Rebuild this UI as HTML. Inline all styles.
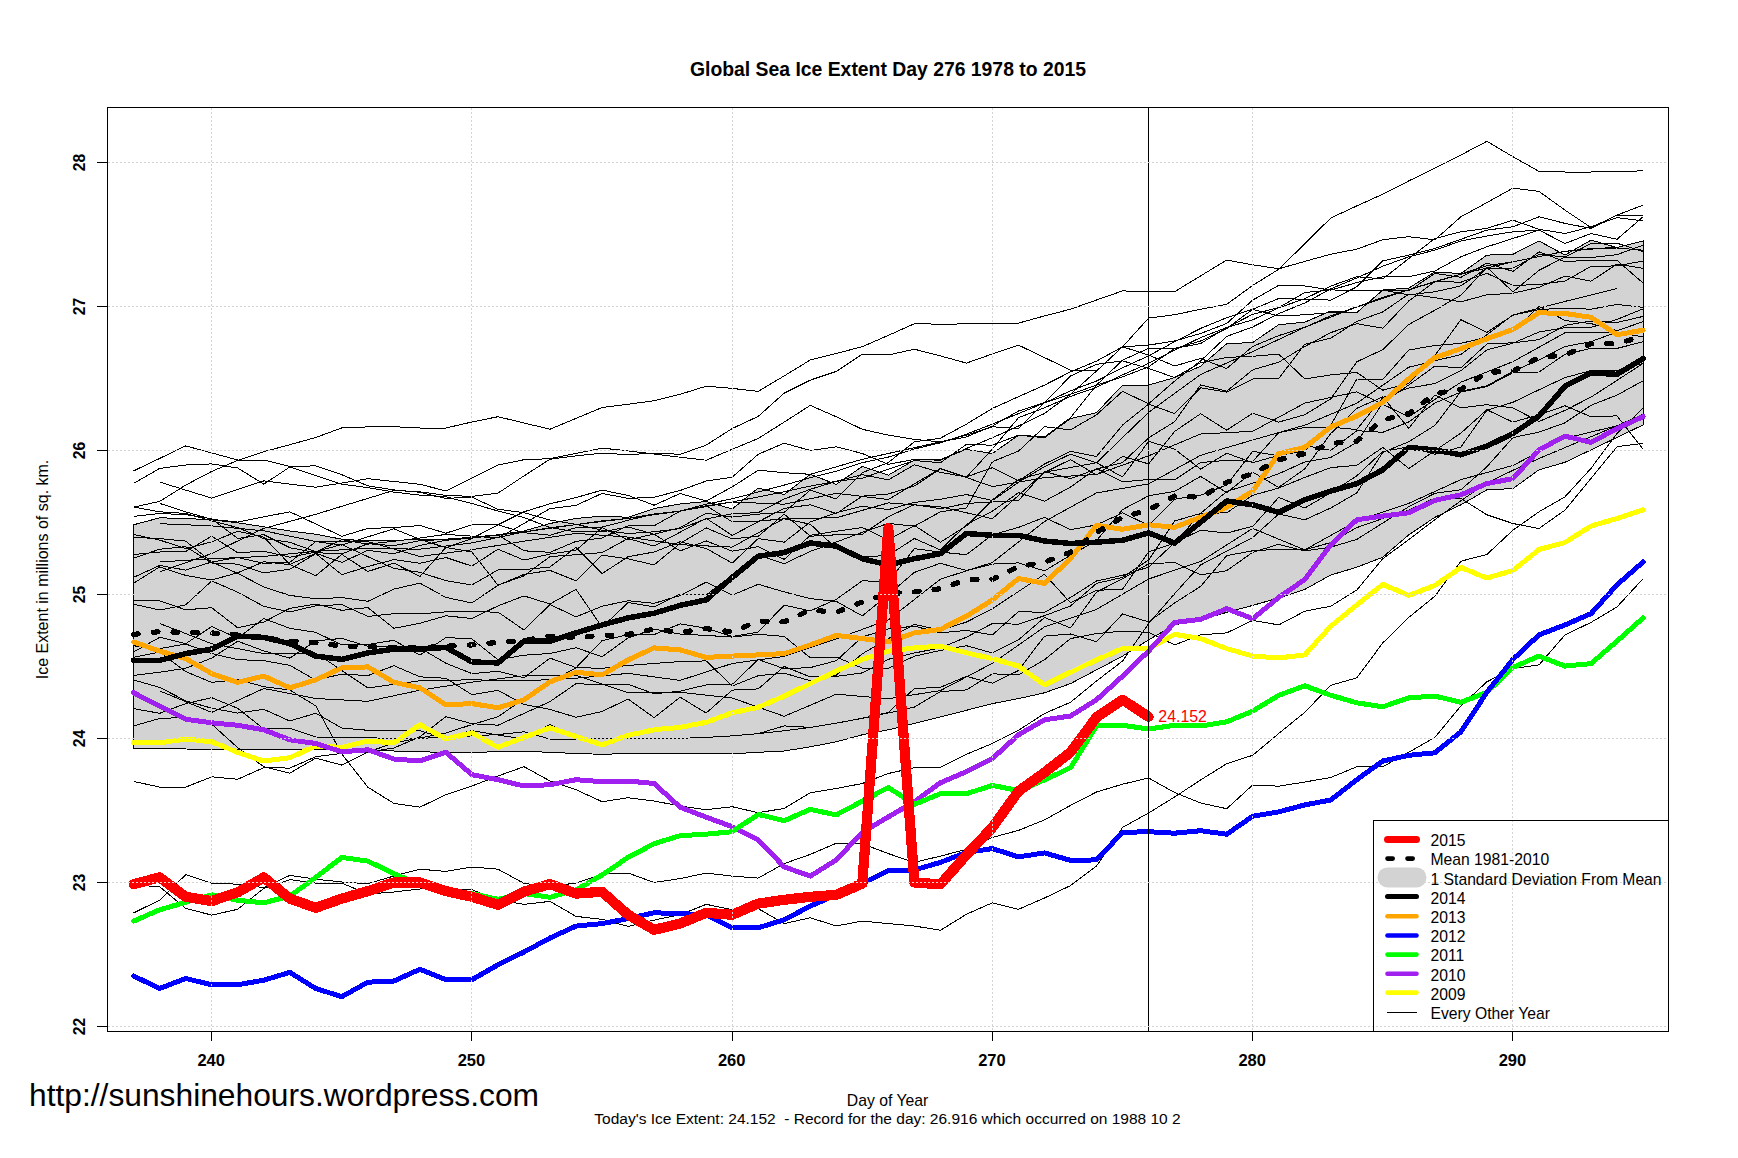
<!DOCTYPE html><html><head><meta charset="utf-8"><title>Global Sea Ice Extent</title>
<style>html,body{margin:0;padding:0;background:#fff}svg{display:block}text{font-family:"Liberation Sans",Arial,sans-serif;fill:#000}</style></head><body>
<svg width="1738" height="1158" viewBox="0 0 1738 1158">
<rect width="1738" height="1158" fill="#fff"/>
<polygon points="133.6,524.8 159.7,517.8 185.7,518.5 211.7,519.8 237.7,522.8 263.8,526.8 289.8,531.0 315.8,534.3 341.8,539.2 367.9,541.0 393.9,540.2 419.9,539.7 445.9,539.2 471.9,537.3 498.0,534.8 524.0,531.0 550.0,523.5 576.0,518.5 602.1,516.0 628.1,517.3 654.1,508.5 680.1,504.0 706.2,501.5 732.2,509.0 758.2,488.0 784.2,494.5 810.3,474.3 836.3,484.4 862.3,466.5 888.3,475.2 914.4,460.0 940.4,459.5 966.4,449.4 992.4,453.5 1018.5,435.2 1044.5,437.7 1070.5,418.5 1096.5,412.7 1122.6,385.1 1148.6,385.1 1174.6,377.6 1200.6,366.2 1226.7,343.7 1252.7,342.5 1278.7,324.7 1304.8,322.2 1330.8,311.0 1356.8,312.6 1382.8,290.0 1408.8,288.0 1434.9,272.0 1460.9,273.5 1486.9,255.1 1512.9,254.3 1539.0,241.0 1565.0,255.1 1591.0,240.1 1617.0,247.6 1643.1,241.0 1643.1,424.9 1617.0,437.4 1591.0,449.9 1565.0,462.3 1539.0,469.8 1512.9,488.6 1486.9,489.8 1460.9,504.8 1434.9,517.3 1408.8,534.8 1382.8,557.2 1356.8,567.2 1330.8,575.0 1304.8,589.4 1278.7,597.9 1252.7,605.4 1226.7,612.4 1200.6,619.9 1174.6,624.9 1148.6,639.9 1122.6,656.1 1096.5,669.9 1070.5,683.6 1044.5,692.8 1018.5,698.6 992.4,703.6 966.4,710.3 940.4,716.8 914.4,723.5 888.3,729.8 862.3,734.8 836.3,741.8 810.3,746.8 784.2,751.0 758.2,752.3 732.2,753.8 706.2,753.5 680.1,753.5 654.1,753.5 628.1,753.5 602.1,754.3 576.0,753.5 550.0,752.3 524.0,751.3 498.0,751.8 471.9,752.3 445.9,752.3 419.9,751.8 393.9,751.0 367.9,750.3 341.8,749.8 315.8,749.5 289.8,749.3 263.8,749.3 237.7,749.3 211.7,749.3 185.7,749.0 159.7,748.8 133.6,748.5" fill="#d3d3d3" stroke="#000" stroke-width="1" shape-rendering="crispEdges"/>
<g fill="none" stroke="#000" stroke-width="1" stroke-linejoin="round" shape-rendering="crispEdges">
<polyline points="133.6,507.1 159.7,501.4 185.7,485.1 211.7,471.4 237.7,460.4 263.8,451.7 289.8,444.7 315.8,437.5 341.8,427.9 367.9,426.9 393.9,426.7 419.9,428.0 445.9,428.0 471.9,422.0 498.0,416.7 524.0,423.0 550.0,429.2 576.0,418.4 602.1,407.5 628.1,404.2 654.1,400.8 680.1,394.3 706.2,386.2 732.2,388.4 758.2,391.4 784.2,375.9 810.3,360.0 836.3,353.4 862.3,346.7 888.3,335.4 914.4,323.7 940.4,324.2 966.4,323.9 992.4,323.9 1018.5,323.1 1044.5,315.9 1070.5,309.2 1096.5,300.0 1122.6,290.9 1148.6,291.7 1174.6,291.7 1200.6,275.9 1226.7,260.1 1252.7,264.8 1278.7,268.8 1304.8,261.4 1330.8,254.2 1356.8,249.2 1382.8,239.7 1408.8,236.7 1434.9,239.8 1460.9,216.8 1486.9,202.6 1512.9,188.1 1539.0,191.4 1565.0,210.1 1591.0,227.6 1617.0,215.1 1643.1,205.1"/>
<polyline points="159.7,571.8 185.7,562.7 211.7,553.5 237.7,541.0 263.8,528.4 289.8,521.4 315.8,514.3 341.8,506.3 367.9,498.4 393.9,490.4 419.9,491.8 445.9,495.4 471.9,496.4 498.0,493.1 524.0,475.9 550.0,459.2 576.0,455.9 602.1,453.1 628.1,454.7 654.1,453.1 680.1,454.3 706.2,445.1 732.2,428.5 758.2,416.4 784.2,393.1 810.3,380.1 836.3,371.4 862.3,354.2 888.3,355.0 914.4,349.2 940.4,355.9 966.4,363.1 992.4,353.9 1018.5,345.1 1044.5,357.6 1070.5,370.1 1096.5,371.0 1122.6,346.8 1148.6,318.1 1174.6,314.7 1200.6,309.3 1226.7,304.3 1252.7,285.4 1278.7,269.3 1304.8,243.7 1330.8,218.0 1356.8,205.9 1382.8,194.2 1408.8,180.9 1434.9,168.0 1460.9,155.0 1486.9,141.3 1512.9,156.7 1539.0,171.4 1565.0,172.0 1591.0,172.0 1617.0,171.4 1643.1,170.9"/>
<polyline points="159.7,482.1 185.7,490.1 211.7,498.1 237.7,489.5 263.8,480.9 289.8,484.1 315.8,487.2 341.8,483.0 367.9,478.7 393.9,481.5 419.9,484.3 445.9,490.9 471.9,478.0 498.0,465.1 524.0,459.7 550.0,458.7 576.0,453.4 602.1,448.1 628.1,450.9 654.1,454.0 680.1,457.2 706.2,460.2 732.2,449.3 758.2,438.5 784.2,422.1 810.3,405.4 836.3,416.8 862.3,429.3 888.3,435.1 914.4,439.4 940.4,441.9 966.4,436.9 992.4,426.0 1018.5,411.0 1044.5,402.7 1070.5,394.3 1096.5,385.1 1122.6,376.8 1148.6,366.8 1174.6,348.5 1200.6,341.0 1226.7,328.5 1252.7,309.3 1278.7,298.5 1304.8,299.3 1330.8,300.1 1356.8,286.8 1382.8,260.9 1408.8,255.1 1434.9,248.5 1460.9,239.3 1486.9,230.1 1512.9,226.8 1539.0,216.8 1565.0,223.4 1591.0,228.4 1617.0,215.1 1643.1,215.9"/>
<polyline points="133.6,470.9 159.7,458.4 185.7,445.9 211.7,452.9 237.7,460.0 263.8,460.0 289.8,466.4 315.8,465.9 341.8,474.7 367.9,485.9 393.9,489.9 419.9,492.3 445.9,498.4 471.9,497.1 498.0,509.3 524.0,512.6 550.0,520.1 576.0,524.3 602.1,530.2 628.1,533.5 654.1,531.8 680.1,528.6 706.2,518.9 732.2,513.7 758.2,512.7 784.2,499.0 810.3,489.3 836.3,481.3 862.3,478.2 888.3,469.2 914.4,460.5 940.4,462.7 966.4,444.4 992.4,445.2 1018.5,435.2 1044.5,436.9 1070.5,417.7 1096.5,385.1 1122.6,360.1 1148.6,348.4 1174.6,348.5 1200.6,343.5 1226.7,327.7 1252.7,314.3 1278.7,307.6 1304.8,292.6 1330.8,289.8 1356.8,291.0 1382.8,290.1 1408.8,291.0 1434.9,273.4 1460.9,277.3 1486.9,263.1 1512.9,271.4 1539.0,251.8 1565.0,261.7 1591.0,260.1 1617.0,260.4 1643.1,283.1"/>
<polyline points="133.6,483.4 159.7,468.4 185.7,465.0 211.7,463.9 237.7,468.0 263.8,484.2 289.8,467.0 315.8,475.6 341.8,484.2 367.9,487.6 393.9,492.1 419.9,495.1 445.9,496.8 471.9,503.5 498.0,511.0 524.0,517.6 550.0,527.6 576.0,531.8 602.1,531.9 628.1,527.0 654.1,534.2 680.1,527.7 706.2,513.2 732.2,517.1 758.2,514.1 784.2,512.3 810.3,490.1 836.3,499.0 862.3,472.6 888.3,462.6 914.4,441.8 940.4,438.2 966.4,424.2 992.4,408.4 1018.5,396.7 1044.5,385.1 1070.5,371.9 1096.5,361.1 1122.6,346.8 1148.6,355.1 1174.6,366.0 1200.6,358.5 1226.7,368.5 1252.7,346.4 1278.7,335.6 1304.8,327.3 1330.8,315.7 1356.8,306.9 1382.8,297.3 1408.8,289.7 1434.9,281.5 1460.9,274.2 1486.9,265.6 1512.9,261.8 1539.0,256.7 1565.0,251.3 1591.0,248.6 1617.0,248.0 1643.1,250.2"/>
<polyline points="133.6,507.1 159.7,511.8 185.7,513.4 211.7,520.9 237.7,527.6 263.8,538.6 289.8,542.3 315.8,551.6 341.8,544.5 367.9,556.7 393.9,568.4 419.9,572.3 445.9,580.7 471.9,585.0 498.0,569.9 524.0,569.6 550.0,567.0 576.0,547.3 602.1,573.6 628.1,556.7 654.1,552.0 680.1,541.8 706.2,548.5 732.2,563.1 758.2,538.6 784.2,542.2 810.3,522.0 836.3,512.8 862.3,506.2 888.3,509.6 914.4,502.4 940.4,499.3 966.4,494.5 992.4,500.6 1018.5,482.3 1044.5,466.7 1070.5,454.1 1096.5,462.8 1122.6,476.9 1148.6,441.4 1174.6,449.1 1200.6,469.1 1226.7,453.2 1252.7,462.7 1278.7,455.4 1304.8,450.9 1330.8,425.2 1356.8,379.0 1382.8,379.4 1408.8,350.0 1434.9,345.5 1460.9,343.3 1486.9,337.3 1512.9,331.7 1539.0,306.4 1565.0,320.5 1591.0,323.6 1617.0,330.7 1643.1,321.7"/>
<polyline points="159.7,503.4 185.7,511.8 211.7,519.3 237.7,522.1 263.8,516.9 289.8,511.8 315.8,524.0 341.8,536.3 367.9,528.4 393.9,527.6 419.9,525.5 445.9,533.2 471.9,524.8 498.0,524.8 524.0,532.7 550.0,535.2 576.0,527.6 602.1,527.1 628.1,520.3 654.1,514.0 680.1,511.1 706.2,504.2 732.2,498.8 758.2,492.0 784.2,485.1 810.3,477.7 836.3,471.2 862.3,462.7 888.3,457.1 914.4,449.0 940.4,442.8 966.4,434.1 992.4,424.1 1018.5,413.6 1044.5,402.9 1070.5,390.8 1096.5,381.0 1122.6,367.8 1148.6,355.8 1174.6,341.7 1200.6,328.4 1226.7,317.7 1252.7,309.3 1278.7,316.0 1304.8,314.8 1330.8,312.6 1356.8,312.6 1382.8,290.1 1408.8,294.8 1434.9,291.8 1460.9,285.9 1486.9,268.0 1512.9,268.1 1539.0,254.3 1565.0,257.0 1591.0,243.6 1617.0,243.2 1643.1,251.7"/>
<polyline points="133.6,577.3 159.7,565.5 185.7,570.1 211.7,562.0 237.7,557.6 263.8,563.3 289.8,562.3 315.8,541.6 341.8,545.1 367.9,536.8 393.9,528.8 419.9,539.3 445.9,547.7 471.9,538.5 498.0,524.8 524.0,511.8 550.0,503.8 576.0,497.6 602.1,490.1 628.1,495.4 654.1,505.2 680.1,493.5 706.2,501.0 732.2,486.9 758.2,470.2 784.2,472.7 810.3,474.3 836.3,466.8 862.3,459.3 888.3,453.5 914.4,447.7 940.4,441.9 966.4,435.2 992.4,426.8 1018.5,428.5 1044.5,402.7 1070.5,376.0 1096.5,364.3 1122.6,360.9 1148.6,368.4 1174.6,377.6 1200.6,362.7 1226.7,357.4 1252.7,356.3 1278.7,354.1 1304.8,379.0 1330.8,374.9 1356.8,372.5 1382.8,390.2 1408.8,383.4 1434.9,355.5 1460.9,319.7 1486.9,332.5 1512.9,315.2 1539.0,309.5 1565.0,308.2 1591.0,309.2 1617.0,304.4 1643.1,307.4"/>
<polyline points="133.6,554.5 159.7,552.0 185.7,551.5 211.7,536.2 237.7,552.7 263.8,551.2 289.8,557.2 315.8,552.0 341.8,539.7 367.9,544.1 393.9,541.3 419.9,538.0 445.9,534.4 471.9,536.1 498.0,538.0 524.0,523.5 550.0,508.6 576.0,505.4 602.1,493.4 628.1,498.4 654.1,497.2 680.1,490.5 706.2,481.0 732.2,477.2 758.2,454.3 784.2,443.1 810.3,450.5 836.3,446.8 862.3,453.5 888.3,464.3 914.4,459.4 940.4,460.2 966.4,448.5 992.4,437.7 1018.5,426.0 1044.5,413.5 1070.5,394.3 1096.5,371.0 1122.6,346.8 1148.6,345.1 1174.6,341.0 1200.6,333.5 1226.7,323.5 1252.7,300.1 1278.7,285.4 1304.8,285.9 1330.8,290.1 1356.8,282.6 1382.8,276.8 1408.8,276.8 1434.9,271.0 1460.9,256.8 1486.9,246.8 1512.9,238.5 1539.0,230.1 1565.0,243.5 1591.0,233.5 1617.0,239.3 1643.1,216.8"/>
<polyline points="133.6,537.4 159.7,538.6 185.7,541.1 211.7,562.0 237.7,573.4 263.8,586.9 289.8,595.4 315.8,598.8 341.8,597.6 367.9,601.3 393.9,589.1 419.9,583.1 445.9,597.4 471.9,603.0 498.0,585.2 524.0,575.8 550.0,556.6 576.0,554.7 602.1,552.6 628.1,538.5 654.1,546.1 680.1,532.2 706.2,518.3 732.2,535.4 758.2,521.8 784.2,508.4 810.3,504.8 836.3,513.6 862.3,496.2 888.3,494.0 914.4,486.0 940.4,468.7 966.4,477.2 992.4,449.0 1018.5,417.7 1044.5,407.8 1070.5,396.4 1096.5,387.3 1122.6,374.8 1148.6,363.4 1174.6,350.1 1200.6,337.6 1226.7,327.5 1252.7,319.8 1278.7,307.8 1304.8,298.7 1330.8,286.1 1356.8,276.7 1382.8,279.0 1408.8,258.5 1434.9,238.5 1460.9,231.8 1486.9,228.4 1512.9,220.1 1539.0,229.3 1565.0,233.5 1591.0,226.8 1617.0,217.6 1643.1,220.9"/>
<polyline points="133.6,600.2 159.7,600.9 185.7,609.8 211.7,607.7 237.7,627.8 263.8,622.0 289.8,608.3 315.8,604.1 341.8,610.3 367.9,607.6 393.9,628.3 419.9,623.3 445.9,615.8 471.9,618.5 498.0,605.9 524.0,595.9 550.0,604.0 576.0,589.4 602.1,627.2 628.1,602.6 654.1,606.8 680.1,594.1 706.2,594.9 732.2,575.2 758.2,555.0 784.2,563.7 810.3,551.4 836.3,542.0 862.3,532.3 888.3,523.4 914.4,526.2 940.4,511.8 966.4,507.9 992.4,461.7 1018.5,451.1 1044.5,426.7 1070.5,429.9 1096.5,414.8 1122.6,391.3 1148.6,403.8 1174.6,381.1 1200.6,360.9 1226.7,336.4 1252.7,327.0 1278.7,313.6 1304.8,303.0 1330.8,288.8 1356.8,278.0 1382.8,266.2 1408.8,256.8 1434.9,250.1 1460.9,241.0 1486.9,236.0 1512.9,231.8 1539.0,230.1 1565.0,243.5 1591.0,233.5 1617.0,239.3 1643.1,216.8"/>
<polyline points="133.6,781.4 159.7,787.1 185.7,787.1 211.7,776.8 237.7,779.3 263.8,767.6 289.8,768.1 315.8,756.7 341.8,753.4 367.9,752.0 393.9,748.0 419.9,736.8 445.9,716.6 471.9,723.7 498.0,725.2 524.0,713.4 550.0,701.6 576.0,683.7 602.1,684.7 628.1,684.3 654.1,693.8 680.1,691.2 706.2,684.9 732.2,684.5 758.2,659.5 784.2,668.7 810.3,667.6 836.3,660.7 862.3,636.9 888.3,628.9 914.4,626.2 940.4,632.8 966.4,630.4 992.4,634.9 1018.5,611.5 1044.5,612.5 1070.5,597.5 1096.5,581.0 1122.6,575.3 1148.6,567.1 1174.6,542.6 1200.6,530.2 1226.7,533.0 1252.7,526.4 1278.7,497.4 1304.8,508.0 1330.8,492.7 1356.8,475.8 1382.8,451.4 1408.8,446.9 1434.9,454.2 1460.9,447.0 1486.9,410.2 1512.9,402.3 1539.0,389.8 1565.0,377.6 1591.0,370.6 1617.0,370.5 1643.1,363.4"/>
<polyline points="133.6,726.0 159.7,718.4 185.7,717.5 211.7,724.2 237.7,747.6 263.8,766.8 289.8,773.1 315.8,758.1 341.8,765.1 367.9,752.0 393.9,743.0 419.9,738.0 445.9,733.0 471.9,724.6 498.0,716.7 524.0,698.8 550.0,682.2 576.0,667.8 602.1,640.6 628.1,634.7 654.1,634.6 680.1,623.9 706.2,628.1 732.2,636.5 758.2,632.1 784.2,605.1 810.3,610.9 836.3,599.3 862.3,580.8 888.3,581.7 914.4,548.6 940.4,552.1 966.4,554.7 992.4,534.8 1018.5,527.4 1044.5,517.3 1070.5,529.7 1096.5,524.9 1122.6,512.9 1148.6,525.3 1174.6,499.2 1200.6,495.2 1226.7,485.0 1252.7,451.3 1278.7,455.9 1304.8,445.4 1330.8,450.4 1356.8,430.7 1382.8,432.3 1408.8,421.9 1434.9,403.0 1460.9,392.1 1486.9,386.5 1512.9,372.7 1539.0,372.0 1565.0,354.3 1591.0,348.4 1617.0,348.4 1643.1,341.8"/>
<polyline points="133.6,657.2 159.7,652.0 185.7,671.6 211.7,682.4 237.7,679.6 263.8,686.7 289.8,690.0 315.8,705.9 341.8,754.0 367.9,787.2 393.9,803.4 419.9,807.2 445.9,794.7 471.9,786.0 498.0,776.0 524.0,766.7 550.0,781.0 576.0,789.7 602.1,801.7 628.1,797.7 654.1,801.0 680.1,806.0 706.2,809.7 732.2,806.7 758.2,812.7 784.2,808.4 810.3,792.7 836.3,788.5 862.3,783.5 888.3,773.5 914.4,767.7 940.4,767.5 966.4,754.3 992.4,743.5 1018.5,730.3 1044.5,713.5 1070.5,702.3 1096.5,681.0 1122.6,661.0 1148.6,623.7 1174.6,593.7 1200.6,565.0 1226.7,551.2 1252.7,537.5 1278.7,514.0 1304.8,519.8 1330.8,508.0 1356.8,492.9 1382.8,452.4 1408.8,441.7 1434.9,425.4 1460.9,391.4 1486.9,385.8 1512.9,371.4 1539.0,359.9 1565.0,346.6 1591.0,341.6 1617.0,332.1 1643.1,337.0"/>
<polyline points="133.6,912.9 159.7,900.1 185.7,874.7 211.7,883.1 237.7,884.2 263.8,887.6 289.8,875.4 315.8,879.2 341.8,882.0 367.9,883.7 393.9,876.0 419.9,869.2 445.9,871.4 471.9,867.0 498.0,869.2 524.0,883.4 550.0,886.5 576.0,883.0 602.1,874.2 628.1,873.0 654.1,882.5 680.1,878.6 706.2,873.1 732.2,876.1 758.2,878.1 784.2,863.6 810.3,854.4 836.3,843.2 862.3,843.7 888.3,853.6 914.4,862.4 940.4,856.1 966.4,849.4 992.4,837.4 1018.5,830.4 1044.5,819.9 1070.5,805.4 1096.5,792.0 1122.6,784.2 1148.6,778.0 1174.6,792.5 1200.6,803.0 1226.7,808.7 1252.7,785.0 1278.7,786.2 1304.8,782.0 1330.8,777.5 1356.8,766.7 1382.8,766.7 1408.8,752.3 1434.9,737.3 1460.9,706.0 1486.9,681.8 1512.9,668.6 1539.0,664.9 1565.0,634.9 1591.0,622.4 1617.0,606.9 1643.1,578.7"/>
<polyline points="133.6,885.0 159.7,886.7 185.7,908.4 211.7,915.1 237.7,909.3 263.8,888.4 289.8,879.6 315.8,883.1 341.8,883.1 367.9,894.0 393.9,892.0 419.9,889.0 445.9,888.7 471.9,889.7 498.0,900.0 524.0,904.3 550.0,901.4 576.0,916.4 602.1,919.3 628.1,926.4 654.1,920.1 680.1,914.8 706.2,904.3 732.2,909.8 758.2,908.6 784.2,923.6 810.3,917.8 836.3,926.0 862.3,921.0 888.3,923.6 914.4,926.0 940.4,930.3 966.4,914.3 992.4,902.8 1018.5,909.3 1044.5,898.0 1070.5,885.6 1096.5,866.1 1122.6,827.4 1148.6,813.0 1174.6,797.0 1200.6,780.0 1226.7,763.7 1252.7,755.3 1278.7,733.5 1304.8,712.3 1330.8,685.3 1356.8,677.8 1382.8,642.9 1408.8,617.4 1434.9,596.2 1460.9,561.2 1486.9,554.5 1512.9,530.2 1539.0,511.8 1565.0,496.8 1591.0,468.4 1617.0,433.4 1643.1,408.0"/>
<polyline points="133.6,708.6 159.7,713.3 185.7,703.6 211.7,697.7 237.7,708.3 263.8,729.0 289.8,728.4 315.8,737.0 341.8,737.4 367.9,737.9 393.9,738.2 419.9,738.4 445.9,737.2 471.9,730.6 498.0,735.0 524.0,739.1 550.0,724.3 576.0,739.0 602.1,738.9 628.1,738.9 654.1,738.8 680.1,738.4 706.2,737.4 732.2,735.9 758.2,733.6 784.2,730.8 810.3,727.4 836.3,723.2 862.3,718.3 888.3,713.0 914.4,707.1 940.4,691.6 966.4,689.9 992.4,673.8 1018.5,674.9 1044.5,659.7 1070.5,638.6 1096.5,633.6 1122.6,631.1 1148.6,632.4 1174.6,644.9 1200.6,634.9 1226.7,632.9 1252.7,620.4 1278.7,624.9 1304.8,611.2 1330.8,606.2 1356.8,590.0 1382.8,558.7 1408.8,539.6 1434.9,519.6 1460.9,500.7 1486.9,483.1 1512.9,470.3 1539.0,458.5 1565.0,447.6 1591.0,436.7 1617.0,425.8 1643.1,414.2"/>
<polyline points="133.6,680.0 159.7,687.4 185.7,700.8 211.7,708.2 237.7,713.1 263.8,709.3 289.8,721.0 315.8,713.2 341.8,728.0 367.9,730.3 393.9,731.0 419.9,730.8 445.9,738.5 471.9,735.8 498.0,734.6 524.0,731.8 550.0,739.0 576.0,739.0 602.1,738.3 628.1,738.9 654.1,738.8 680.1,738.4 706.2,737.4 732.2,735.9 758.2,733.6 784.2,725.9 810.3,727.4 836.3,723.2 862.3,718.2 888.3,712.4 914.4,688.6 940.4,687.3 966.4,676.4 992.4,683.2 1018.5,670.5 1044.5,636.1 1070.5,634.0 1096.5,641.7 1122.6,614.0 1148.6,621.9 1174.6,603.0 1200.6,586.4 1226.7,555.6 1252.7,550.8 1278.7,549.2 1304.8,549.9 1330.8,542.5 1356.8,527.6 1382.8,518.5 1408.8,510.1 1434.9,498.0 1460.9,498.4 1486.9,514.8 1512.9,523.5 1539.0,528.5 1565.0,510.1 1591.0,478.4 1617.0,446.7 1643.1,443.4"/>
<polyline points="133.6,645.8 159.7,648.6 185.7,644.0 211.7,653.5 237.7,659.7 263.8,660.6 289.8,665.4 315.8,680.1 341.8,674.1 367.9,675.6 393.9,665.7 419.9,676.8 445.9,678.3 471.9,694.6 498.0,690.4 524.0,704.4 550.0,709.4 576.0,717.3 602.1,711.5 628.1,699.0 654.1,717.7 680.1,697.2 706.2,713.0 732.2,690.1 758.2,688.9 784.2,666.5 810.3,676.9 836.3,676.4 862.3,672.9 888.3,659.3 914.4,653.0 940.4,647.9 966.4,637.2 992.4,623.5 1018.5,624.2 1044.5,615.7 1070.5,606.0 1096.5,583.4 1122.6,577.3 1148.6,560.0 1174.6,521.0 1200.6,513.5 1226.7,512.8 1252.7,495.3 1278.7,488.1 1304.8,477.4 1330.8,467.6 1356.8,465.3 1382.8,447.4 1408.8,468.5 1434.9,450.7 1460.9,433.1 1486.9,409.8 1512.9,422.1 1539.0,414.8 1565.0,405.8 1591.0,416.7 1617.0,415.9 1643.1,449.2"/>
<polyline points="133.6,516.4 159.7,513.5 185.7,514.7 211.7,518.8 237.7,538.5 263.8,534.6 289.8,547.7 315.8,552.6 341.8,554.0 367.9,543.7 393.9,545.7 419.9,540.6 445.9,539.5 471.9,537.6 498.0,535.1 524.0,532.0 550.0,527.7 576.0,524.6 602.1,520.9 628.1,518.4 654.1,514.0 680.1,511.1 706.2,505.8 732.2,502.0 758.2,496.9 784.2,491.7 810.3,486.1 836.3,481.3 862.3,474.6 888.3,479.9 914.4,464.7 940.4,472.4 966.4,476.9 992.4,467.7 1018.5,480.9 1044.5,464.0 1070.5,451.3 1096.5,456.5 1122.6,425.0 1148.6,404.1 1174.6,413.6 1200.6,387.8 1226.7,392.1 1252.7,379.0 1278.7,378.6 1304.8,344.3 1330.8,338.2 1356.8,321.4 1382.8,311.9 1408.8,294.1 1434.9,297.7 1460.9,301.8 1486.9,294.8 1512.9,293.2 1539.0,287.3 1565.0,276.1 1591.0,281.2 1617.0,264.1 1643.1,268.3"/>
<polyline points="159.7,523.7 211.7,525.9 263.8,530.8 315.8,541.5 367.9,541.6 419.9,556.5 471.9,549.7 524.0,541.2 576.0,533.4 628.1,537.1 680.1,544.7 732.2,547.1 784.2,518.5 836.3,517.8 888.3,502.9 940.4,506.8 992.4,518.7 1044.5,472.2 1096.5,462.8 1148.6,412.4 1200.6,374.5 1252.7,351.6 1304.8,327.3 1356.8,306.9 1408.8,289.7 1460.9,274.2 1512.9,261.8 1565.0,251.3 1617.0,247.0"/>
<polyline points="133.6,534.5 159.7,540.1 185.7,548.6 211.7,541.9 237.7,531.2 263.8,537.2 289.8,564.4 315.8,553.3 341.8,562.4 367.9,550.3 393.9,553.8 419.9,545.4 445.9,540.3 471.9,538.0 498.0,535.1 524.0,550.8 550.0,552.3 576.0,541.4 602.1,538.0 628.1,525.8 654.1,525.8 680.1,511.1 706.2,505.8 732.2,521.8 758.2,521.1 784.2,518.8 810.3,524.2 836.3,548.4 862.3,556.9 888.3,555.4 914.4,538.5 940.4,549.9 966.4,524.6 992.4,511.2 1018.5,492.7 1044.5,501.2 1070.5,487.1 1096.5,468.5 1122.6,481.8 1148.6,479.5 1174.6,480.0 1200.6,462.5 1226.7,460.4 1252.7,461.4 1278.7,432.7 1304.8,427.4 1330.8,427.2 1356.8,429.5 1382.8,397.6 1408.8,388.0 1434.9,383.6 1460.9,370.7 1486.9,349.9 1512.9,343.2 1539.0,332.0 1565.0,327.7 1591.0,327.4 1617.0,319.4 1643.1,308.9"/>
<polyline points="133.6,558.2 159.7,549.2 185.7,546.6 211.7,563.0 237.7,564.1 263.8,572.9 289.8,569.2 315.8,553.6 341.8,574.7 367.9,566.5 393.9,559.6 419.9,563.3 445.9,557.5 471.9,566.1 498.0,549.2 524.0,560.1 550.0,554.0 576.0,550.2 602.1,527.7 628.1,539.8 654.1,534.1 680.1,550.9 706.2,540.9 732.2,551.1 758.2,546.7 784.2,559.4 810.3,535.3 836.3,531.2 862.3,527.5 888.3,539.9 914.4,525.5 940.4,542.2 966.4,525.9 992.4,499.9 1018.5,479.4 1044.5,472.5 1070.5,459.6 1096.5,475.0 1122.6,456.4 1148.6,463.9 1174.6,431.5 1200.6,413.7 1226.7,430.2 1252.7,413.2 1278.7,422.1 1304.8,414.7 1330.8,398.8 1356.8,361.8 1382.8,349.6 1408.8,324.5 1434.9,310.2 1460.9,295.2 1486.9,267.3 1512.9,291.9 1539.0,270.3 1565.0,257.1 1591.0,257.6 1617.0,254.7 1643.1,245.1"/>
<polyline points="159.7,561.9 211.7,558.8 263.8,556.4 315.8,551.3 367.9,548.4 419.9,549.2 471.9,542.9 524.0,532.0 576.0,524.6 628.1,518.4 680.1,511.1 732.2,502.0 784.2,504.2 836.3,493.3 888.3,499.5 940.4,468.4 992.4,486.6 1044.5,477.6 1096.5,474.5 1148.6,455.8 1200.6,434.0 1252.7,431.3 1304.8,403.1 1356.8,391.8 1408.8,416.8 1460.9,382.2 1512.9,361.7 1565.0,332.8 1617.0,332.2"/>
<polyline points="133.6,583.2 159.7,566.9 185.7,575.4 211.7,580.0 237.7,572.8 263.8,561.8 289.8,564.6 315.8,575.6 341.8,554.4 367.9,571.5 393.9,563.0 419.9,576.5 445.9,547.4 471.9,552.0 498.0,585.2 524.0,574.4 550.0,570.4 576.0,580.8 602.1,555.1 628.1,558.9 654.1,564.9 680.1,543.5 706.2,527.9 732.2,538.9 758.2,536.3 784.2,514.1 810.3,536.2 836.3,534.8 862.3,534.3 888.3,516.7 914.4,504.6 940.4,508.7 966.4,503.4 992.4,502.0 1018.5,500.5 1044.5,471.5 1070.5,478.7 1096.5,469.0 1122.6,462.6 1148.6,437.9 1174.6,421.7 1200.6,384.9 1226.7,391.2 1252.7,369.8 1278.7,362.2 1304.8,346.5 1330.8,332.6 1356.8,323.7 1382.8,328.2 1408.8,300.9 1434.9,281.5 1460.9,282.2 1486.9,273.3 1512.9,285.5 1539.0,284.5 1565.0,281.0 1591.0,266.4 1617.0,265.9 1643.1,261.0"/>
<polyline points="133.6,604.2 159.7,610.0 185.7,604.8 211.7,580.9 237.7,592.2 263.8,606.4 289.8,611.9 315.8,605.8 341.8,604.6 367.9,616.4 393.9,613.7 419.9,613.8 445.9,611.9 471.9,611.8 498.0,612.1 524.0,630.0 550.0,604.5 576.0,616.9 602.1,606.2 628.1,600.7 654.1,603.3 680.1,595.6 706.2,582.1 732.2,595.1 758.2,584.3 784.2,591.9 810.3,598.6 836.3,601.4 862.3,615.9 888.3,594.6 914.4,572.4 940.4,563.3 966.4,570.5 992.4,564.1 1018.5,562.9 1044.5,570.9 1070.5,555.3 1096.5,540.6 1122.6,509.6 1148.6,495.8 1174.6,491.4 1200.6,476.4 1226.7,492.7 1252.7,472.1 1278.7,487.4 1304.8,468.9 1330.8,433.5 1356.8,408.3 1382.8,396.9 1408.8,428.4 1434.9,394.9 1460.9,407.8 1486.9,404.7 1512.9,407.9 1539.0,421.5 1565.0,410.4 1591.0,397.1 1617.0,380.4 1643.1,363.4"/>
<polyline points="159.7,623.5 211.7,643.7 263.8,653.6 315.8,653.0 367.9,688.0 419.9,680.8 471.9,679.8 524.0,680.9 576.0,678.2 628.1,673.4 680.1,680.4 732.2,663.5 784.2,656.4 836.3,638.9 888.3,619.9 940.4,579.2 992.4,562.5 1044.5,521.5 1096.5,492.9 1148.6,483.9 1200.6,455.3 1252.7,440.0 1304.8,425.2 1356.8,403.2 1408.8,367.2 1460.9,354.5 1512.9,315.0 1565.0,301.4 1617.0,288.5"/>
<polyline points="133.6,652.0 159.7,637.3 185.7,643.7 211.7,626.6 237.7,638.1 263.8,618.6 289.8,628.3 315.8,632.3 341.8,645.0 367.9,644.5 393.9,640.3 419.9,655.1 445.9,637.5 471.9,638.9 498.0,659.8 524.0,655.2 550.0,653.5 576.0,647.7 602.1,656.7 628.1,637.9 654.1,629.1 680.1,634.1 706.2,635.4 732.2,637.1 758.2,634.3 784.2,636.4 810.3,657.8 836.3,657.0 862.3,668.1 888.3,668.3 914.4,656.2 940.4,650.4 966.4,645.7 992.4,653.0 1018.5,639.9 1044.5,617.5 1070.5,627.9 1096.5,592.1 1122.6,578.7 1148.6,563.8 1174.6,562.5 1200.6,574.9 1226.7,570.7 1252.7,552.3 1278.7,544.3 1304.8,551.0 1330.8,547.1 1356.8,539.4 1382.8,523.0 1408.8,506.7 1434.9,493.3 1460.9,489.8 1486.9,466.8 1512.9,437.6 1539.0,432.1 1565.0,422.8 1591.0,405.3 1617.0,395.1 1643.1,380.8"/>
<polyline points="133.6,675.5 159.7,672.2 185.7,668.3 211.7,658.1 237.7,641.2 263.8,650.9 289.8,658.1 315.8,640.9 341.8,638.4 367.9,646.3 393.9,647.2 419.9,647.9 445.9,663.2 471.9,673.6 498.0,671.3 524.0,677.8 550.0,658.1 576.0,667.6 602.1,668.3 628.1,665.5 654.1,663.4 680.1,661.6 706.2,660.9 732.2,686.0 758.2,675.7 784.2,673.2 810.3,680.7 836.3,675.1 862.3,653.8 888.3,638.7 914.4,624.4 940.4,630.1 966.4,622.1 992.4,608.7 1018.5,591.5 1044.5,574.2 1070.5,602.8 1096.5,590.4 1122.6,589.1 1148.6,551.9 1174.6,543.1 1200.6,513.3 1226.7,491.5 1252.7,483.2 1278.7,473.7 1304.8,462.0 1330.8,457.5 1356.8,442.3 1382.8,402.9 1408.8,385.0 1434.9,366.1 1460.9,367.9 1486.9,344.0 1512.9,342.8 1539.0,339.7 1565.0,325.4 1591.0,321.0 1617.0,322.5 1643.1,316.4"/>
<polyline points="159.7,690.9 211.7,712.4 263.8,688.5 315.8,698.5 367.9,701.3 419.9,690.2 471.9,682.1 524.0,675.7 576.0,675.2 628.1,692.8 680.1,692.2 732.2,698.0 784.2,716.3 836.3,694.2 888.3,698.7 940.4,690.6 992.4,663.3 1044.5,626.9 1096.5,609.4 1148.6,579.0 1200.6,561.5 1252.7,528.4 1304.8,549.9 1356.8,520.9 1408.8,503.3 1460.9,479.6 1512.9,465.5 1565.0,438.3 1617.0,425.8"/>
</g>
<polyline points="133.6,742.8 159.7,742.8 185.7,739.0 211.7,741.8 237.7,752.3 263.8,761.0 289.8,757.7 315.8,746.0 341.8,747.3 367.9,741.0 393.9,742.8 419.9,724.8 445.9,739.0 471.9,732.8 498.0,747.3 524.0,737.3 550.0,727.8 576.0,736.5 602.1,744.8 628.1,735.3 654.1,729.8 680.1,727.3 706.2,722.3 732.2,712.8 758.2,707.3 784.2,696.1 810.3,683.6 836.3,671.1 862.3,659.4 888.3,651.1 914.4,647.9 940.4,646.1 966.4,652.9 992.4,658.6 1018.5,666.1 1044.5,684.8 1070.5,672.3 1096.5,659.9 1122.6,648.6 1148.6,648.6 1174.6,634.4 1200.6,638.6 1226.7,648.6 1252.7,656.1 1278.7,657.9 1304.8,654.9 1330.8,626.2 1356.8,604.9 1382.8,584.4 1408.8,595.4 1434.9,585.4 1460.9,567.5 1486.9,578.0 1512.9,570.5 1539.0,549.5 1565.0,542.5 1591.0,526.0 1617.0,518.5 1643.1,509.8" fill="none" stroke="#ffff00" stroke-width="5" stroke-linejoin="round" stroke-linecap="round" shape-rendering="crispEdges" />
<polyline points="133.6,692.8 159.7,706.1 185.7,719.3 211.7,722.8 237.7,725.3 263.8,729.8 289.8,739.8 315.8,743.5 341.8,751.8 367.9,749.8 393.9,759.0 419.9,761.0 445.9,752.3 471.9,774.7 498.0,779.7 524.0,786.0 550.0,784.7 576.0,779.7 602.1,781.7 628.1,781.0 654.1,783.5 680.1,807.2 706.2,817.2 732.2,826.7 758.2,839.9 784.2,866.9 810.3,876.1 836.3,859.9 862.3,832.4 888.3,816.9 914.4,801.7 940.4,782.7 966.4,771.7 992.4,758.5 1018.5,734.8 1044.5,719.8 1070.5,716.0 1096.5,699.8 1122.6,676.1 1148.6,651.1 1174.6,622.4 1200.6,619.4 1226.7,608.7 1252.7,618.7 1278.7,597.4 1304.8,579.5 1330.8,544.7 1356.8,519.8 1382.8,516.0 1408.8,512.8 1434.9,500.3 1460.9,494.8 1486.9,483.6 1512.9,478.6 1539.0,449.9 1565.0,436.1 1591.0,442.4 1617.0,428.6 1643.1,416.6" fill="none" stroke="#a020f0" stroke-width="5" stroke-linejoin="round" stroke-linecap="round" shape-rendering="crispEdges" />
<polyline points="133.6,921.1 159.7,909.8 185.7,902.3 211.7,894.8 237.7,900.3 263.8,902.8 289.8,896.1 315.8,877.4 341.8,857.4 367.9,861.1 393.9,873.6 419.9,884.9 445.9,891.1 471.9,893.6 498.0,899.3 524.0,893.6 550.0,897.3 576.0,889.9 602.1,874.9 628.1,857.4 654.1,843.7 680.1,835.7 706.2,834.2 732.2,831.7 758.2,814.4 784.2,820.7 810.3,809.4 836.3,814.9 862.3,801.2 888.3,787.5 914.4,804.4 940.4,793.7 966.4,793.7 992.4,785.5 1018.5,790.5 1044.5,780.0 1070.5,767.7 1096.5,726.0 1122.6,725.3 1148.6,729.0 1174.6,725.3 1200.6,726.0 1226.7,721.8 1252.7,711.1 1278.7,695.3 1304.8,685.8 1330.8,695.3 1356.8,702.8 1382.8,706.8 1408.8,697.8 1434.9,696.1 1460.9,702.3 1486.9,692.3 1512.9,667.4 1539.0,656.1 1565.0,666.1 1591.0,663.6 1617.0,641.1 1643.1,617.9" fill="none" stroke="#00ff00" stroke-width="5" stroke-linejoin="round" stroke-linecap="round" shape-rendering="crispEdges" />
<polyline points="133.6,976.0 159.7,988.5 185.7,978.5 211.7,984.7 237.7,984.7 263.8,980.2 289.8,972.3 315.8,988.5 341.8,996.7 367.9,982.2 393.9,981.0 419.9,969.3 445.9,979.7 471.9,979.7 498.0,964.8 524.0,952.0 550.0,938.0 576.0,926.1 602.1,923.6 628.1,918.6 654.1,912.8 680.1,913.6 706.2,914.8 732.2,927.8 758.2,927.8 784.2,919.8 810.3,906.1 836.3,894.8 862.3,883.6 888.3,870.6 914.4,869.9 940.4,862.4 966.4,852.4 992.4,848.6 1018.5,856.9 1044.5,852.9 1070.5,860.4 1096.5,859.9 1122.6,832.4 1148.6,831.7 1174.6,833.2 1200.6,830.7 1226.7,834.2 1252.7,816.2 1278.7,811.9 1304.8,804.9 1330.8,800.0 1356.8,779.7 1382.8,761.0 1408.8,755.3 1434.9,752.8 1460.9,731.8 1486.9,692.3 1512.9,659.4 1539.0,634.9 1565.0,624.9 1591.0,613.7 1617.0,584.9 1643.1,562.0" fill="none" stroke="#0000ff" stroke-width="5" stroke-linejoin="round" stroke-linecap="round" shape-rendering="crispEdges" />
<polyline points="133.6,641.9 159.7,651.1 185.7,658.6 211.7,673.6 237.7,682.3 263.8,676.1 289.8,687.8 315.8,679.8 341.8,667.9 367.9,666.9 393.9,682.3 419.9,687.8 445.9,704.8 471.9,703.6 498.0,707.8 524.0,699.8 550.0,681.8 576.0,672.3 602.1,674.8 628.1,659.9 654.1,647.9 680.1,649.9 706.2,657.4 732.2,656.1 758.2,654.9 784.2,653.6 810.3,644.9 836.3,635.4 862.3,638.6 888.3,641.9 914.4,632.9 940.4,629.4 966.4,616.2 992.4,599.9 1018.5,578.5 1044.5,583.4 1070.5,558.5 1096.5,525.3 1122.6,529.3 1148.6,524.8 1174.6,527.3 1200.6,517.3 1226.7,507.3 1252.7,491.1 1278.7,453.6 1304.8,447.4 1330.8,426.9 1356.8,416.1 1382.8,402.4 1408.8,378.7 1434.9,357.5 1460.9,348.7 1486.9,338.7 1512.9,329.5 1539.0,312.8 1565.0,313.5 1591.0,317.3 1617.0,334.7 1643.1,330.2" fill="none" stroke="#ffa500" stroke-width="5" stroke-linejoin="round" stroke-linecap="round" shape-rendering="crispEdges" />
<polyline points="133.6,660.4 159.7,660.4 185.7,653.6 211.7,649.1 237.7,636.1 263.8,637.4 289.8,643.6 315.8,656.1 341.8,659.4 367.9,652.9 393.9,649.1 419.9,649.1 445.9,647.4 471.9,661.9 498.0,662.9 524.0,641.1 550.0,641.1 576.0,632.9 602.1,624.9 628.1,617.9 654.1,613.2 680.1,605.4 706.2,599.9 732.2,577.5 758.2,556.2 784.2,552.5 810.3,543.0 836.3,546.2 862.3,558.7 888.3,565.0 914.4,558.7 940.4,553.7 966.4,533.5 992.4,535.3 1018.5,535.3 1044.5,541.0 1070.5,543.5 1096.5,542.2 1122.6,540.2 1148.6,532.8 1174.6,543.0 1200.6,522.3 1226.7,501.0 1252.7,504.8 1278.7,512.3 1304.8,499.8 1330.8,491.1 1356.8,483.6 1382.8,469.8 1408.8,447.4 1434.9,449.9 1460.9,454.8 1486.9,446.1 1512.9,433.6 1539.0,416.1 1565.0,386.2 1591.0,372.9 1617.0,374.4 1643.1,358.7" fill="none" stroke="#000" stroke-width="5.5" stroke-linejoin="round" stroke-linecap="round" shape-rendering="crispEdges" />
<polyline points="133.6,634.4 159.7,631.6 185.7,632.4 211.7,632.9 237.7,634.9 263.8,637.9 289.8,641.1 315.8,642.4 341.8,646.1 367.9,646.6 393.9,647.4 419.9,647.9 445.9,646.1 471.9,644.9 498.0,642.4 524.0,640.6 550.0,636.1 576.0,637.4 602.1,635.6 628.1,634.4 654.1,629.1 680.1,632.4 706.2,628.6 732.2,631.9 758.2,621.2 784.2,621.9 810.3,609.9 836.3,612.4 862.3,601.9 888.3,593.7 914.4,591.9 940.4,588.7 966.4,579.7 992.4,579.2 1018.5,566.7 1044.5,562.2 1070.5,552.2 1096.5,532.3 1122.6,517.3 1148.6,509.8 1174.6,496.0 1200.6,497.3 1226.7,482.3 1252.7,473.6 1278.7,459.8 1304.8,453.6 1330.8,443.6 1356.8,441.1 1382.8,419.9 1408.8,413.6 1434.9,393.7 1460.9,389.4 1486.9,372.4 1512.9,371.2 1539.0,357.5 1565.0,355.0 1591.0,343.7 1617.0,343.7 1643.1,336.2" fill="none" stroke="#000" stroke-width="5.2" stroke-linejoin="round" stroke-linecap="round" shape-rendering="crispEdges" stroke-dasharray="4.8 15"/>
<polyline points="133.6,884.1 159.7,877.4 185.7,896.8 211.7,901.1 237.7,892.3 263.8,877.4 289.8,898.6 315.8,907.8 341.8,898.6 367.9,891.1 393.9,882.4 419.9,882.4 445.9,891.1 471.9,896.8 498.0,904.8 524.0,891.6 550.0,884.1 576.0,893.6 602.1,891.8 628.1,914.8 654.1,929.8 680.1,923.6 706.2,912.8 732.2,914.8 758.2,903.6 784.2,899.8 810.3,896.8 836.3,894.8 862.3,883.6 888.3,528.3 914.4,882.4 940.4,884.4 966.4,854.9 992.4,827.4 1018.5,791.2 1044.5,772.5 1070.5,752.3 1096.5,717.3 1122.6,699.8 1148.6,716.8" fill="none" stroke="#ff0000" stroke-width="10.2" stroke-linejoin="round" stroke-linecap="round" shape-rendering="crispEdges" />
<line x1="1148.5" y1="107.5" x2="1148.5" y2="1031.5" stroke="#000" stroke-width="1" shape-rendering="crispEdges"/>
<text x="1158.3" y="722.3" font-size="15.9" style="fill:#ff0000">24.152</text>
<g stroke="#d3d3d3" stroke-width="1" stroke-dasharray="2 2" shape-rendering="crispEdges">
<line x1="211.5" y1="107.5" x2="211.5" y2="1031.5"/>
<line x1="471.5" y1="107.5" x2="471.5" y2="1031.5"/>
<line x1="732.5" y1="107.5" x2="732.5" y2="1031.5"/>
<line x1="992.5" y1="107.5" x2="992.5" y2="1031.5"/>
<line x1="1252.5" y1="107.5" x2="1252.5" y2="1031.5"/>
<line x1="1512.5" y1="107.5" x2="1512.5" y2="1031.5"/>
<line x1="107.5" y1="1026.5" x2="1668.5" y2="1026.5"/>
<line x1="107.5" y1="882.5" x2="1668.5" y2="882.5"/>
<line x1="107.5" y1="738.5" x2="1668.5" y2="738.5"/>
<line x1="107.5" y1="594.5" x2="1668.5" y2="594.5"/>
<line x1="107.5" y1="450.5" x2="1668.5" y2="450.5"/>
<line x1="107.5" y1="306.5" x2="1668.5" y2="306.5"/>
<line x1="107.5" y1="162.5" x2="1668.5" y2="162.5"/>
</g>
<rect x="1373.5" y="820.5" width="295" height="211" fill="none" stroke="#000" stroke-width="1" shape-rendering="crispEdges"/>
<line x1="1387.5" y1="839.4" x2="1416.5" y2="839.4" stroke="#ff0000" stroke-width="7" stroke-linecap="round"/>
<text x="1430.5" y="846" font-size="15.7">2015</text>
<line x1="1387.5" y1="858.6" x2="1416.5" y2="858.6" stroke="#000" stroke-width="4.6" stroke-linecap="round" stroke-dasharray="5.2 14.8"/>
<text x="1430.5" y="865" font-size="15.7">Mean 1981-2010</text>
<line x1="1387.5" y1="877.4" x2="1416.5" y2="877.4" stroke="#d3d3d3" stroke-width="20" stroke-linecap="round"/>
<text x="1430.5" y="885" font-size="15.7">1 Standard Deviation From Mean</text>
<line x1="1387.5" y1="896.6" x2="1416.5" y2="896.6" stroke="#000" stroke-width="5" stroke-linecap="round"/>
<text x="1430.5" y="904" font-size="15.7">2014</text>
<line x1="1387.5" y1="916.3" x2="1416.5" y2="916.3" stroke="#ffa500" stroke-width="4.6" stroke-linecap="round"/>
<text x="1430.5" y="923" font-size="15.7">2013</text>
<line x1="1387.5" y1="935.5" x2="1416.5" y2="935.5" stroke="#0000ff" stroke-width="4.6" stroke-linecap="round"/>
<text x="1430.5" y="942" font-size="15.7">2012</text>
<line x1="1387.5" y1="954.6" x2="1416.5" y2="954.6" stroke="#00ff00" stroke-width="4.6" stroke-linecap="round"/>
<text x="1430.5" y="961" font-size="15.7">2011</text>
<line x1="1387.5" y1="973.7" x2="1416.5" y2="973.7" stroke="#a020f0" stroke-width="4.6" stroke-linecap="round"/>
<text x="1430.5" y="980.5" font-size="15.7">2010</text>
<line x1="1387.5" y1="992.6" x2="1416.5" y2="992.6" stroke="#ffff00" stroke-width="4.6" stroke-linecap="round"/>
<text x="1430.5" y="999.7" font-size="15.7">2009</text>
<line x1="1387" y1="1012.5" x2="1417" y2="1012.5" stroke="#000" stroke-width="1" shape-rendering="crispEdges"/>
<text x="1430.5" y="1018.7" font-size="15.7">Every Other Year</text>
<rect x="107.5" y="107.5" width="1561.0" height="924.0" fill="none" stroke="#000" stroke-width="1" shape-rendering="crispEdges"/>
<g stroke="#000" stroke-width="1" shape-rendering="crispEdges">
<line x1="211.5" y1="1031.5" x2="211.5" y2="1041.0"/>
<line x1="471.5" y1="1031.5" x2="471.5" y2="1041.0"/>
<line x1="732.5" y1="1031.5" x2="732.5" y2="1041.0"/>
<line x1="992.5" y1="1031.5" x2="992.5" y2="1041.0"/>
<line x1="1252.5" y1="1031.5" x2="1252.5" y2="1041.0"/>
<line x1="1512.5" y1="1031.5" x2="1512.5" y2="1041.0"/>
<line x1="107.5" y1="1026.5" x2="97.0" y2="1026.5"/>
<line x1="107.5" y1="882.5" x2="97.0" y2="882.5"/>
<line x1="107.5" y1="738.5" x2="97.0" y2="738.5"/>
<line x1="107.5" y1="594.5" x2="97.0" y2="594.5"/>
<line x1="107.5" y1="450.5" x2="97.0" y2="450.5"/>
<line x1="107.5" y1="306.5" x2="97.0" y2="306.5"/>
<line x1="107.5" y1="162.5" x2="97.0" y2="162.5"/>
</g>
<text x="211.2" y="1066" font-size="16.5" font-weight="bold" text-anchor="middle">240</text>
<text x="471.4" y="1066" font-size="16.5" font-weight="bold" text-anchor="middle">250</text>
<text x="731.7" y="1066" font-size="16.5" font-weight="bold" text-anchor="middle">260</text>
<text x="991.9" y="1066" font-size="16.5" font-weight="bold" text-anchor="middle">270</text>
<text x="1252.2" y="1066" font-size="16.5" font-weight="bold" text-anchor="middle">280</text>
<text x="1512.4" y="1066" font-size="16.5" font-weight="bold" text-anchor="middle">290</text>
<text transform="translate(85,1026.5) rotate(-90)" font-size="15.7" font-weight="bold" text-anchor="middle">22</text>
<text transform="translate(85,882.5) rotate(-90)" font-size="15.7" font-weight="bold" text-anchor="middle">23</text>
<text transform="translate(85,738.5) rotate(-90)" font-size="15.7" font-weight="bold" text-anchor="middle">24</text>
<text transform="translate(85,594.5) rotate(-90)" font-size="15.7" font-weight="bold" text-anchor="middle">25</text>
<text transform="translate(85,450.5) rotate(-90)" font-size="15.7" font-weight="bold" text-anchor="middle">26</text>
<text transform="translate(85,306.5) rotate(-90)" font-size="15.7" font-weight="bold" text-anchor="middle">27</text>
<text transform="translate(85,162.5) rotate(-90)" font-size="15.7" font-weight="bold" text-anchor="middle">28</text>
<text x="888" y="76" font-size="19.38" font-weight="bold" text-anchor="middle">Global Sea Ice Extent Day 276 1978 to 2015</text>
<text x="887.5" y="1105.5" font-size="15.75" text-anchor="middle">Day of Year</text>
<text x="887.5" y="1124" font-size="15.5" text-anchor="middle" xml:space="preserve" style="white-space:pre">Today's Ice Extent: 24.152  - Record for the day: 26.916 which occurred on 1988 10 2</text>
<text transform="translate(48,569.5) rotate(-90)" font-size="16" text-anchor="middle">Ice Extent in millions of sq. km.</text>
<text x="29" y="1106" font-size="31.75">http://sunshinehours.wordpress.com</text>
</svg></body></html>
